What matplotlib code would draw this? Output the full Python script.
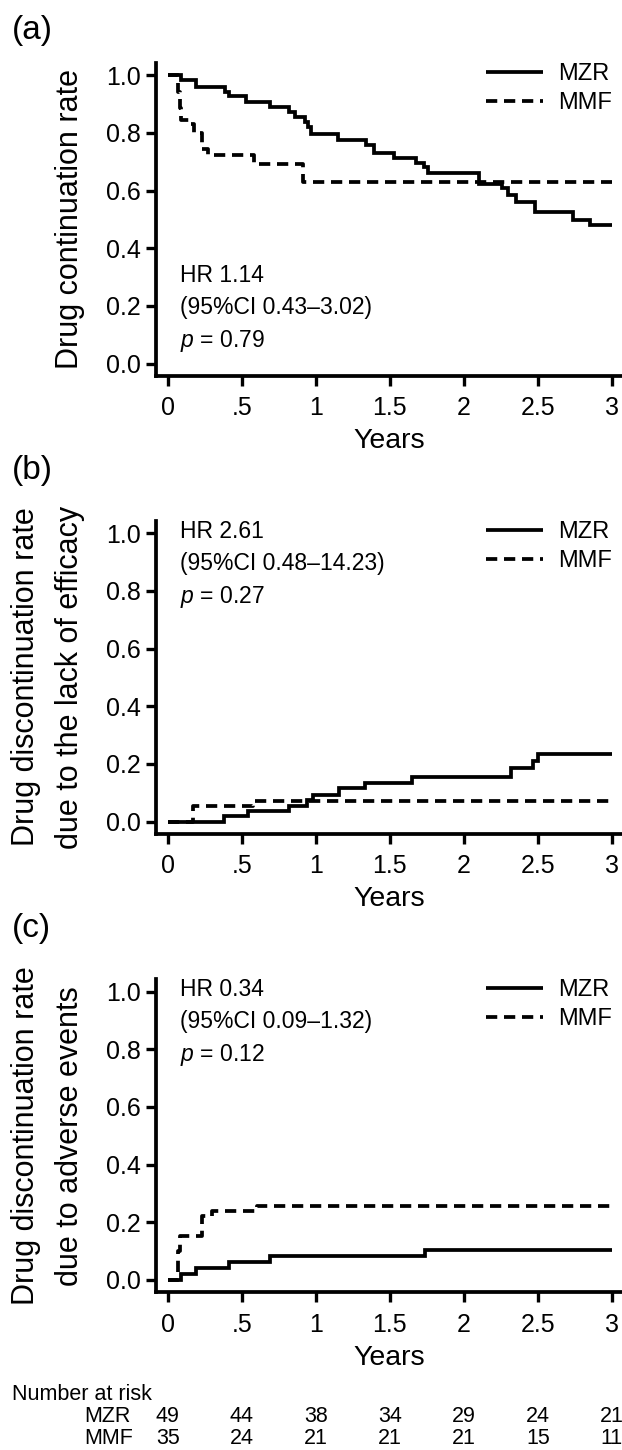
import matplotlib
matplotlib.use("Agg")
import matplotlib.pyplot as plt
import matplotlib.transforms as mtransforms

plt.rcParams['font.family'] = ['Liberation Sans', 'DejaVu Sans']
plt.rcParams['mathtext.fontset'] = 'custom'
plt.rcParams['mathtext.it'] = 'Liberation Sans:italic'
plt.rcParams['mathtext.rm'] = 'Liberation Sans'

# (a) drug continuation (Kaplan-Meier)
mzr_a_t = [0, 0.09, 0.19, 0.385, 0.41, 0.53, 0.69, 0.82, 0.86, 0.925, 0.95, 0.97,
           1.15, 1.34, 1.39, 1.53, 1.68, 1.73, 1.76, 2.10, 2.26, 2.30, 2.35, 2.48,
           2.74, 2.85, 3.0]
mzr_a_s = [1.0, 0.983, 0.96, 0.942, 0.927, 0.907, 0.888, 0.871, 0.855, 0.838, 0.821, 0.797,
           0.775, 0.757, 0.73, 0.713, 0.697, 0.68, 0.66, 0.623, 0.608, 0.584, 0.56, 0.527,
           0.497, 0.482, 0.482]
mmf_a_t = [0, 0.07, 0.08, 0.09, 0.15, 0.18, 0.23, 0.27, 0.58, 0.91, 3.0]
mmf_a_s = [1.0, 0.943, 0.886, 0.845, 0.829, 0.80, 0.743, 0.722, 0.692, 0.63, 0.63]

# (b) discontinuation due to lack of efficacy
mzr_b_t = [0, 0.38, 0.54, 0.82, 0.94, 0.98, 1.16, 1.33, 1.65, 2.32, 2.47, 2.50, 3.0]
mzr_b_v = [0, 0.018, 0.037, 0.055, 0.074, 0.093, 0.117, 0.135, 0.156, 0.187, 0.21, 0.235, 0.235]
mmf_b_t = [0, 0.17, 0.575, 3.0]
mmf_b_v = [0, 0.055, 0.072, 0.072]

# (c) discontinuation due to adverse events
mzr_c_t = [0, 0.09, 0.19, 0.41, 0.69, 1.74, 3.0]
mzr_c_v = [0, 0.02, 0.041, 0.061, 0.082, 0.105, 0.105]
mmf_c_t = [0, 0.07, 0.08, 0.23, 0.30, 0.60, 3.0]
mmf_c_v = [0, 0.10, 0.154, 0.222, 0.240, 0.257, 0.257]

stats = [("1.14", "0.43–3.02", "0.79"),
         ("2.61", "0.48–14.23", "0.27"),
         ("0.34", "0.09–1.32", "0.12")]
panel_tags = ["(a)", "(b)", "(c)"]
ylabels = ["Drug continuation rate",
           "Drug discontinuation rate\ndue to the lack of efficacy",
           "Drug discontinuation rate\ndue to adverse events"]

risk_times = [0, 0.5, 1, 1.5, 2, 2.5, 3]
risk_mzr = [49, 44, 38, 34, 29, 24, 21]
risk_mmf = [35, 24, 21, 21, 21, 15, 11]
xtick_labels = ["0", ".5", "1", "1.5", "2", "2.5", "3"]

W, H = 622, 1450
fig = plt.figure(figsize=(W / 100, H / 100), dpi=100)

panel_bottoms = [376, 834, 1292.4]   # pixel row of x-axis line
tag_y = [31, 470, 929]
label_centers = [(70, 219), (48, 677), (48, 1136)]
series = [(mzr_a_t, mzr_a_s, mmf_a_t, mmf_a_s),
          (mzr_b_t, mzr_b_v, mmf_b_t, mmf_b_v),
          (mzr_c_t, mzr_c_v, mmf_c_t, mmf_c_v)]
text_y = [0.19, 0.89, 0.89]

lw = 2.7
axes = []
for i in range(3):
    ax = fig.add_axes([156 / W, 1 - panel_bottoms[i] / H, 466 / W, 313 / H])
    axes.append(ax)
    t1, v1, t2, v2 = series[i]
    ax.step(t1, v1, where='post', color='black', lw=lw, label='MZR',
            solid_joinstyle='miter', solid_capstyle='butt')
    ax.step(t2, v2, where='post', color='black', lw=lw, label='MMF',
            linestyle=(0, (3.0, 1.8)), dash_capstyle='butt')
    ax.set_xlim(-0.08, 3.069)
    ax.set_ylim(-0.043, 1.042)
    ax.set_xticks(risk_times)
    ax.set_xticklabels(xtick_labels)
    ax.set_yticks([0, 0.2, 0.4, 0.6, 0.8, 1.0])
    ax.set_yticklabels(["0.0", "0.2", "0.4", "0.6", "0.8", "1.0"])
    for s in ['top', 'right']:
        ax.spines[s].set_visible(False)
    for s in ['left', 'bottom']:
        ax.spines[s].set_linewidth(2.7)
    ax.tick_params(axis='both', direction='out', length=7.5, width=2.4,
                   labelsize=18, color='black')
    ax.tick_params(axis='x', pad=7)
    ax.tick_params(axis='y', pad=3.5)
    ax.set_xlabel("Years", fontsize=20.5, labelpad=6)
    ax.patch.set_visible(False)

    ax.legend(loc='upper right', bbox_to_anchor=(0.978, 1.0), frameon=False,
              fontsize=17, handlelength=2.4, handletextpad=0.65,
              labelspacing=0.3, borderpad=0, borderaxespad=0)

    hr, ci, p = stats[i]
    ax.text(0.08, text_y[i], f"HR {hr}\n(95%CI {ci})\n$p$ = {p}",
            fontsize=16.5, va='center', ha='left', linespacing=1.5)

    fig.text(12 / W, 1 - tag_y[i] / H, panel_tags[i], fontsize=24,
             ha='left', va='center')
    cx, cy = label_centers[i]
    fig.text(cx / W, 1 - cy / H, ylabels[i], fontsize=22, rotation=90,
             ha='center', va='center', multialignment='center', linespacing=1.6)

# number at risk table
ax = axes[2]
tr = mtransforms.blended_transform_factory(ax.transData, fig.transFigure)
fig.text(12 / W, 1 - 1395 / H, "Number at risk", fontsize=15.5, ha='left', va='center')
fig.text(84 / W, 1 - 1417 / H, "MZR", fontsize=15.5, ha='left', va='center')
fig.text(84 / W, 1 - 1438 / H, "MMF", fontsize=15.5, ha='left', va='center')
for t, a, b in zip(risk_times, risk_mzr, risk_mmf):
    ax.text(t, 1 - 1417 / H, str(a), transform=tr, fontsize=15.5, ha='center', va='center')
    ax.text(t, 1 - 1438 / H, str(b), transform=tr, fontsize=15.5, ha='center', va='center')

fig.savefig("out.png", dpi=100)
